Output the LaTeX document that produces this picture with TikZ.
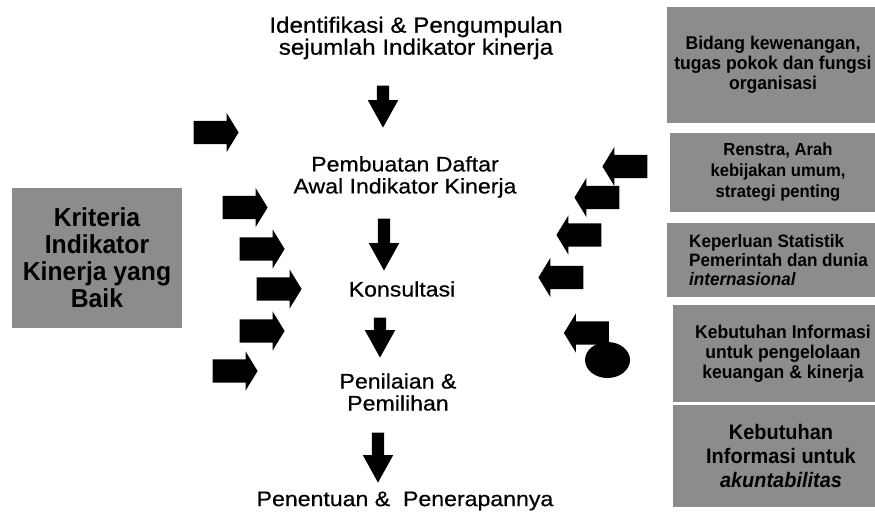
\documentclass[tikz,border=0pt]{standalone}
\usepackage{fontspec}
\setmainfont{Liberation Sans}
\newfontfamily\flowfont[FakeStretch=1.1,FakeBold=0.6]{Liberation Sans}
\newfontfamily\boxfont[FakeStretch=0.95]{Liberation Sans}
\usetikzlibrary{shapes.arrows,shapes.geometric}
\definecolor{noisegray}{gray}{0.55}

\tikzset{
  flow/.style={align=center,inner sep=0pt,font=\flowfont\fontsize{21}{22}\selectfont},
  infobox/.style={fill=noisegray,align=center,inner sep=0pt,
    font=\boxfont\bfseries\fontsize{18.5}{20}\selectfont},
  downarrow/.style={single arrow,fill=black,inner sep=6pt,
    minimum height=#1,single arrow head extend=9,single arrow tip angle=58,
    shape border rotate=270},
  downarrow/.default=45,
  sidearrow/.style={single arrow,fill=black,inner sep=11.5pt,
    minimum height=45,single arrow head extend=8,single arrow tip angle=117},
}

\begin{document}
\begin{tikzpicture}[x=1pt,y=-1pt]

  \useasboundingbox (0,0) rectangle (875,513);

  % alur utama
  \node[flow,font=\flowfont\fontsize{22}{22}\selectfont] (ident) at (416,38) {Identifikasi \& Pengumpulan\\sejumlah Indikator kinerja};
  \node[flow] (daftar) at (405,177) {Pembuatan Daftar\\Awal Indikator Kinerja};
  \node[flow] (konsul) at (402,289) {Konsultasi};
  \node[flow] (nilai) at (398,392) {Penilaian \&\\Pemilihan};
  \node[flow] (tentu) at (405,501) {Penentuan \&\ \ Penerapannya};

  \node[downarrow=42] (d1) at (383,101) {};
  \node[downarrow=52] (d2) at (384,239) {};
  \node[downarrow=40] (d3) at (380,332) {};
  \node[downarrow=50] (d4) at (378,452) {};

  % kotak kiri
  \node[infobox,minimum width=170,minimum height=140,
    font=\boxfont\bfseries\fontsize{26}{27}\selectfont] (krit) at (97,258)
    {Kriteria\\Indikator\\Kinerja yang\\Baik};

  % panah kiri
  \begin{scope}[every node/.style={sidearrow}]
    \node (l1) at (212.5,132.5) {};
    \node (l2) at (241.5,207.5) {};
    \node (l3) at (258.5,249) {};
    \node (l4) at (275.5,289) {};
    \node (l5) at (258.5,331) {};
    \node (l6) at (231.5,371) {};
  \end{scope}

  % panah kanan
  \begin{scope}[every node/.style={sidearrow,shape border rotate=180}]
    \node (r1) at (628.5,166.5) {};
    \node (r2) at (600.5,197.5) {};
    \node (r3) at (582.5,235) {};
    \node (r4) at (564.5,277.5) {};
    \node (r5) at (590,333) {};
  \end{scope}
  \node[ellipse,fill=black,inner sep=0pt,minimum width=45,minimum height=36] (blob) at (607.5,360) {};

  % kotak kanan
  \begin{scope}[every node/.style={infobox}]
    \node[minimum width=212,minimum height=116] (bidang) at (773,65)
      {Bidang kewenangan,\\tugas pokok dan fungsi\\organisasi};
    \node[minimum width=216,minimum height=79,
      font=\boxfont\bfseries\fontsize{17.5}{21}\selectfont] (renstra) at (778,172.5)
      {Renstra, Arah\\kebijakan umum,\\strategi penting};
    \node[align=left,minimum width=223,minimum height=74,
      font=\boxfont\bfseries\fontsize{18}{19}\selectfont] (statistik) at (778.5,260)
      {Keperluan Statistik\\Pemerintah dan dunia\\\textit{internasional}};
    \node[minimum width=220,minimum height=97] (keuangan) at (783,353.5)
      {Kebutuhan Informasi\\untuk pengelolaan\\keuangan \& kinerja};
    \node[minimum width=216,minimum height=102,
      font=\boxfont\bfseries\fontsize{21}{24}\selectfont] (akuntab) at (781,456)
      {Kebutuhan\\Informasi untuk\\\textit{akuntabilitas}};
  \end{scope}

\end{tikzpicture}
\end{document}
